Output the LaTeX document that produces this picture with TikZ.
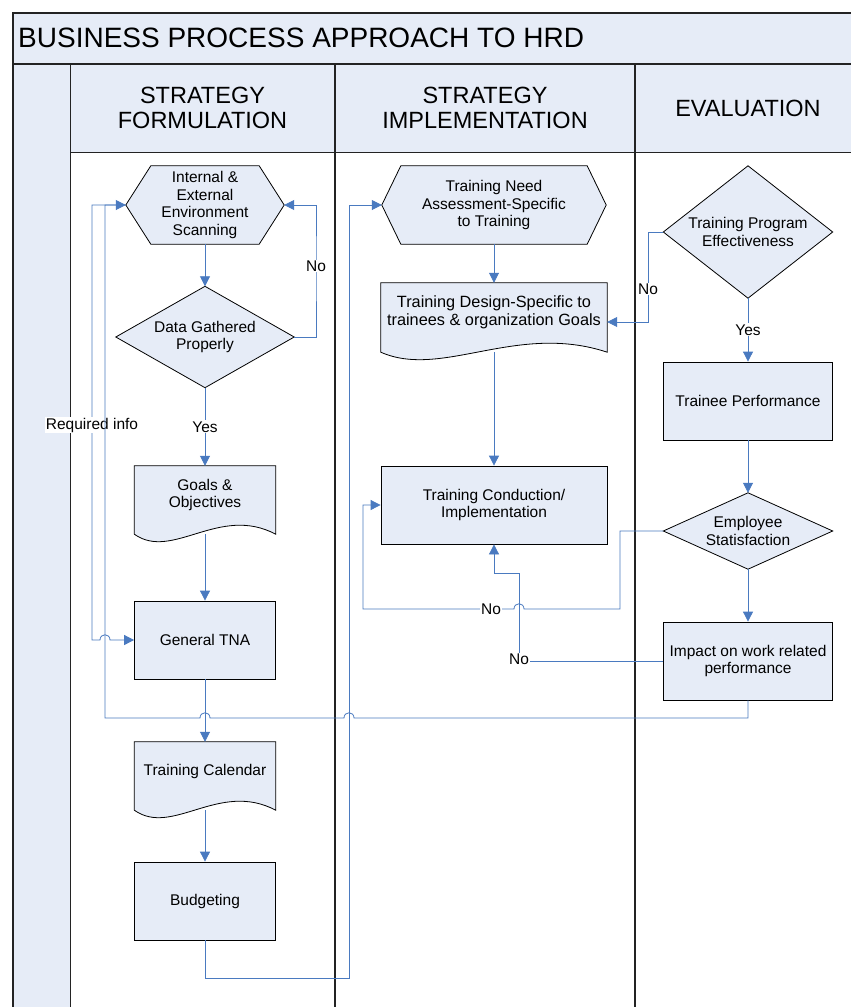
\documentclass[tikz,border=0pt]{standalone}
\usepackage{fontspec}
\setmainfont{Liberation Sans}
\usetikzlibrary{arrows.meta,calc}
\pgfdeclarelayer{lanes}
\pgfdeclarelayer{shapes}
\pgfsetlayers{lanes,shapes,main}
\definecolor{boxfill}{RGB}{230,236,247}
\definecolor{linkblue}{RGB}{74,122,192}
\definecolor{framegray}{RGB}{35,35,35}

\begin{document}
\begin{tikzpicture}[x=1pt,y=-1pt,
  every node/.style={font=\fontsize{15.5}{17.5}\selectfont, text=black},
  box/.style={rectangle, draw=none, align=center, inner sep=0pt},
  outl/.style={fill=boxfill, draw=black, line width=0.8pt},
  rectbox/.style={box, outl},
  link/.style={draw=linkblue, line width=0.8pt},
  arr/.style={link, -{Triangle[length=10pt,width=10pt]}},
  lbl/.style={fill=white, inner sep=1pt},
  lanethick/.style={draw=framegray, line width=1.6pt},
  lanethin/.style={draw=framegray, line width=1pt},
  hdr/.style={align=center, inner sep=0pt, font=\fontsize{23.5}{25}\selectfont},
]
\useasboundingbox (0,0) rectangle (851,1007);

% ---------------- lanes ----------------
\begin{pgfonlayer}{lanes}
  \fill[white] (0,0) rectangle (851,1007);
  \fill[boxfill] (13,13) rectangle (851,64);
  \fill[boxfill] (13,64) rectangle (70,1007);
  \fill[boxfill] (70,64) rectangle (851,152);
  \draw[lanethick] (851,13) -- (13,13) -- (13,1007);
  \draw[lanethick] (13,64) -- (851,64);
  \draw[lanethin] (70,64) -- (70,1007);
  \draw[lanethin] (70,152) -- (851,152);
  \draw[lanethick] (335,64) -- (335,1007);
  \draw[lanethick] (635,64) -- (635,1007);
\end{pgfonlayer}

\node[anchor=base west, inner sep=0pt, font=\fontsize{28}{32}\selectfont] (title) at (18,47) {BUSINESS PROCESS APPROACH TO HRD};
\node[hdr] (h1) at (202.5,108) {STRATEGY\\FORMULATION};
\node[hdr] (h2) at (485,108) {STRATEGY\\IMPLEMENTATION};
\node[hdr] (h3) at (748,108) {EVALUATION};

% ---------------- nodes ----------------
% lane 1
\node[box, minimum width=158pt, minimum height=78pt] (env) at (205,205) {Internal \&\\External\\Environment\\Scanning};
\node[box, minimum width=178pt, minimum height=101pt] (dgp) at (205,337) {Data Gathered\\Properly};
\node[box, minimum width=141pt, minimum height=58pt] (goals) at (205,495) {Goals \&\\Objectives};
\node[rectbox, minimum width=141pt, minimum height=78pt] (tna) at (205,640) {General TNA};
\node[box, minimum width=141pt, minimum height=58pt] (cal) at (205,771) {Training Calendar};
\node[rectbox, minimum width=141pt, minimum height=78pt] (bud) at (205,901) {Budgeting};
% lane 2
\node[box, minimum width=224pt, minimum height=78pt] (tnaS) at (494,205) {Training Need\\Assessment-Specific\\to Training};
\node[box, minimum width=226pt, minimum height=59pt, font=\fontsize{16.3}{18.5}\selectfont] (design) at (494,312.5) {Training Design-Specific to\\trainees \& organization Goals};
\node[rectbox, minimum width=226pt, minimum height=78pt] (cond) at (494,505) {Training Conduction/\\Implementation};
% lane 3
\node[box, minimum width=169pt, minimum height=132pt] (tpe) at (748,232) {Training Program\\Effectiveness};
\node[rectbox, minimum width=169pt, minimum height=78pt] (perf) at (748,401) {Trainee Performance};
\node[box, minimum width=169pt, minimum height=76pt] (emp) at (748,531) {Employee\\Statisfaction};
\node[rectbox, minimum width=169pt, minimum height=78pt] (impact) at (748,661) {Impact on work related\\performance};

% ---------------- custom outlines ----------------
\begin{pgfonlayer}{shapes}
  % hexagons
  \path[outl] (env.west) -- ([xshift=25pt]env.north west) -- ([xshift=-25pt]env.north east) -- (env.east)
     -- ([xshift=-25pt]env.south east) -- ([xshift=25pt]env.south west) -- cycle;
  \path[outl] (tnaS.west) -- ([xshift=19pt]tnaS.north west) -- ([xshift=-19pt]tnaS.north east) -- (tnaS.east)
     -- ([xshift=-19pt]tnaS.south east) -- ([xshift=19pt]tnaS.south west) -- cycle;
  % diamonds
  \path[outl] (dgp.west) -- (dgp.north) -- (dgp.east) -- (dgp.south) -- cycle;
  \path[outl] (tpe.west) -- (tpe.north) -- (tpe.east) -- (tpe.south) -- cycle;
  \path[outl] (emp.west) -- (emp.north) -- (emp.east) -- (emp.south) -- cycle;
  % documents
  \foreach \d in {goals,cal,design}{
    \path[outl] ([yshift=-10pt]\d.south west) -- (\d.north west) -- (\d.north east) -- ([yshift=-10pt]\d.south east)
      .. controls ($(\d.south west)!0.6!(\d.south east)+(0,-20)$) and ($(\d.south west)!0.27!(\d.south east)+(0,37)$)
      .. ([yshift=-10pt]\d.south west) -- cycle;
  }
\end{pgfonlayer}

% ---------------- helper coordinates ----------------
\coordinate (c1) at (316,266);
\coordinate (r1) at (92,425);
\coordinate (q1) at (105,718);
\coordinate (b1) at (349,978);
\coordinate (n3) at (648,289);
\coordinate (n3b) at (648,322);
\coordinate (e1) at (620,609);
\coordinate (e2) at (363,609);
\coordinate (i2) at (519,573);

% ---------------- connectors lane 1 ----------------
\draw[arr] (env.south) -- (dgp.north);
\draw[arr] (dgp.east) -| (c1) |- (env.east);
\node[lbl] (lno1) at (c1) {No};
\draw[arr] (dgp.south) -- node[lbl] (lyes1) {Yes} (goals.north);
\draw[arr] ([yshift=-10pt]goals.south) -- (tna.north);
\draw[arr] (tna.south) -- (cal.north);
\draw[arr] ([yshift=-10pt]cal.south) -- (bud.north);
\draw[arr] (bud.south) |- (b1) |- (tnaS.west);

% required info: scanning -> general TNA
\draw[arr] (env.west) -| (r1) -- (r1 |- tna.west) -- (100,640) .. controls (100,633) and (110,633) .. (110,640) -- (tna.west);
\node[lbl] (lreq) at (r1) {Required info};

% impact -> scanning
\draw[arr] (impact.south) -- (impact.south |- q1) -- (354,718) .. controls (354,711) and (344,711) .. (344,718)
   -- (210,718) .. controls (210,711) and (200,711) .. (200,718) -- (q1) |- (env.west);

% ---------------- connectors lane 2 ----------------
\draw[arr] (tnaS.south) -- (design.north);
\draw[arr] ([yshift=-10pt]design.south) -- (cond.north);

% ---------------- connectors lane 3 ----------------
\draw[arr] (tpe.west) -| (n3b) -- (design.east |- n3b);
\node[lbl] (lno3) at (n3) {No};
\draw[arr] (tpe.south) -- node[lbl] (lyes2) {Yes} (perf.north);
\draw[arr] (perf.south) -- (emp.north);
\draw[arr] (emp.south) -- (impact.north);

% employee satisfaction -> conduction (No)
\draw[arr] (emp.west) -| (e1) -- (524,609) .. controls (524,602) and (514,602) .. (514,609) -- (e2) |- (cond.west);
\node[lbl] (lno4) at (491,609) {No};

% impact -> conduction (No)
\draw[arr] (impact.west) -| (i2) -| (cond.south);
\node[lbl, yshift=2pt] (lno5) at (i2 |- impact.west) {No};

\end{tikzpicture}
\end{document}
